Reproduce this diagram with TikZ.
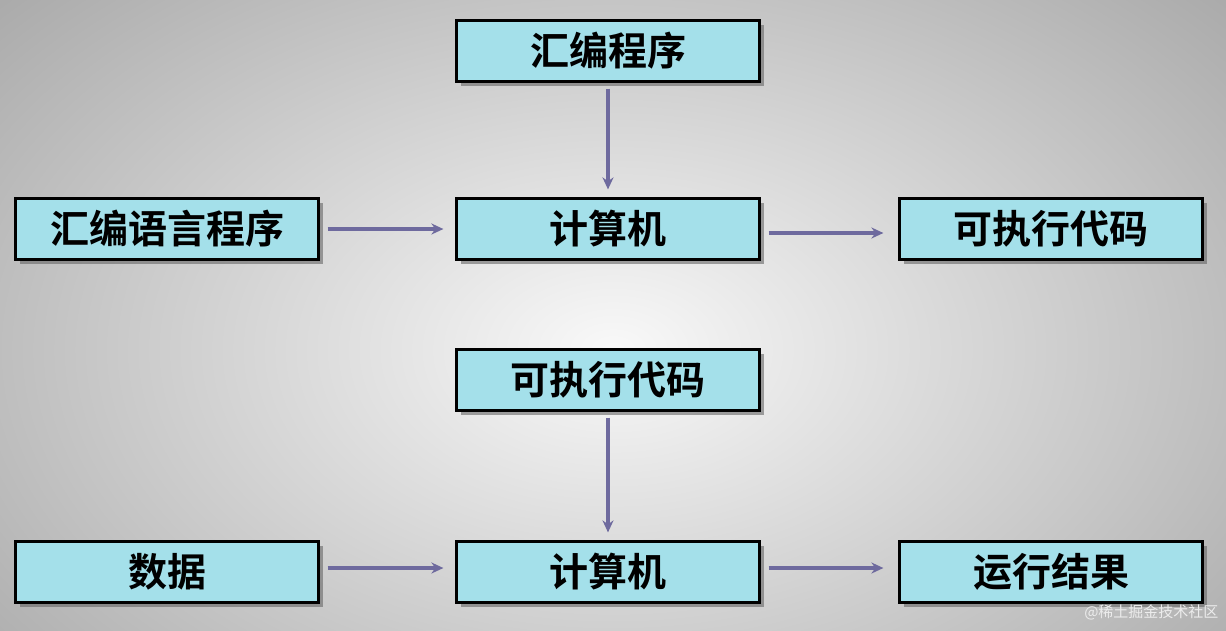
\documentclass[tikz,border=0pt]{standalone}
\usepackage{fontspec}
\newfontfamily\cjk[BoldFont={Noto Sans CJK SC Bold}]{Noto Sans CJK SC}
\usetikzlibrary{shadows,arrows.meta}
\definecolor{boxfill}{HTML}{A4E0EA}
\definecolor{arr}{HTML}{6E6A9E}
\tikzset{
  box/.style={draw=black, line width=2.2pt, fill=boxfill, minimum width=303pt, minimum height=61pt,
    inner sep=0pt, font=\cjk\bfseries\fontsize{39}{41}\selectfont,
    drop shadow={shadow xshift=4pt, shadow yshift=-4pt, fill=black!60, opacity=0.6}},
  conn/.style={draw=arr, line width=4pt, -{Stealth[length=12pt,width=11pt]}}
}
\begin{document}
\begin{tikzpicture}[x=1pt,y=-1pt]
\useasboundingbox (0,0) rectangle (1226,630);
\shade[inner color=white!95!gray, outer color=gray!85!black!70] (-400,-300) rectangle (1626,1000);
\node[box] (a) at (608,51) {汇编程序};
\node[box] (b) at (167,229) {汇编语言程序};
\node[box] (c) at (608,229) {计算机};
\node[box] (d) at (1051,229) {可执行代码};
\node[box] (e) at (608,380) {可执行代码};
\node[box] (f) at (167,572) {数据};
\node[box] (g) at (608,572) {计算机};
\node[box] (h) at (1051,572) {运行结果};
\draw[conn] ([yshift=-6pt]a.south) -- ([yshift=8pt]c.north);
\draw[conn] ([xshift=8pt]b.east) -- ([xshift=-12pt]c.west);
\draw[conn] ([xshift=8pt,yshift=-4pt]c.east) -- ([xshift=-15pt,yshift=-4pt]d.west);
\draw[conn] ([yshift=-6pt]e.south) -- ([yshift=8pt]g.north);
\draw[conn] ([xshift=8pt,yshift=4pt]f.east) -- ([xshift=-12pt,yshift=4pt]g.west);
\draw[conn] ([xshift=8pt,yshift=4pt]g.east) -- ([xshift=-15pt,yshift=4pt]h.west);
\node[text=white!85!gray, font=\cjk\fontsize{15}{16}\selectfont, anchor=east] (w) at (1222,612) {@稀土掘金技术社区};
\end{tikzpicture}
\end{document}
